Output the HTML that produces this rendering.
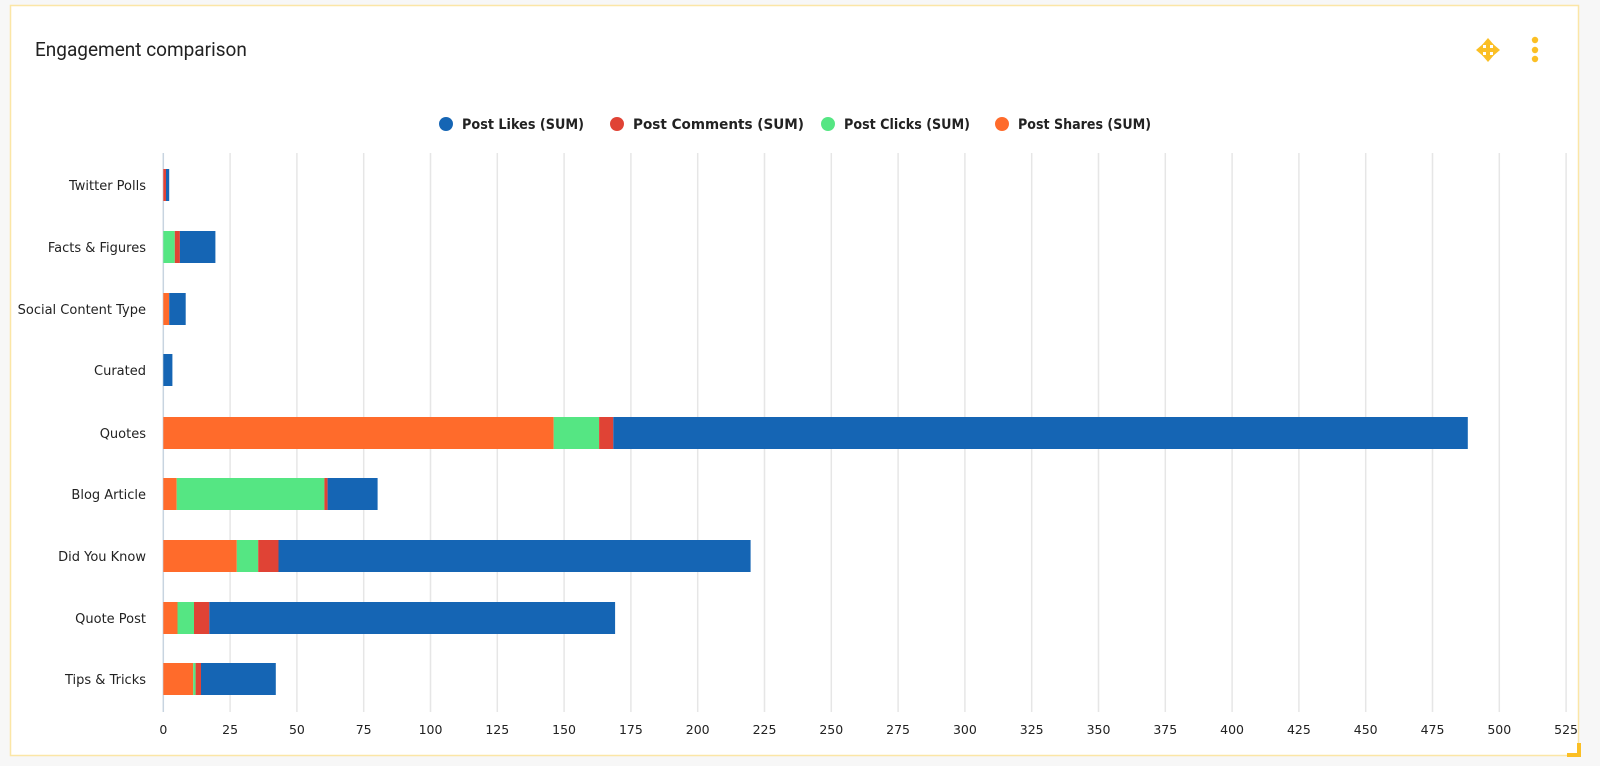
<!DOCTYPE html>
<html><head><meta charset="utf-8"><style>
body{margin:0;background:#f7f7f7;width:1600px;height:766px;overflow:hidden}
</style></head><body>
<svg width="1600" height="766" xmlns="http://www.w3.org/2000/svg" style="position:absolute;left:0;top:0">
<rect x="10.5" y="5.5" width="1568" height="750" fill="#fff" stroke="#fbe6a6" stroke-width="1.5"/>
<path d="M1567 755 L1579 755 L1579 743" fill="none" stroke="#fbbf24" stroke-width="4"/>
<text x="35" y="56" font-family="Roboto,'Liberation Sans',sans-serif" font-size="19" fill="#222">Engagement comparison</text>
<g fill="#fbbf24" transform="translate(1488,50)">
<polygon points="0,-12 -6,-5 6,-5"/><polygon points="0,12 -6,5 6,5"/><polygon points="-12,0 -5,-6 -5,6"/><polygon points="12,0 5,-6 5,6"/>
<rect x="-2" y="-6" width="4" height="12"/><rect x="-6" y="-2" width="12" height="4"/>
</g>
<circle cx="1535" cy="40" r="3.2" fill="#fbbf24"/><circle cx="1535" cy="50" r="3.2" fill="#fbbf24"/><circle cx="1535" cy="59" r="3.2" fill="#fbbf24"/>
<g font-family="'DejaVu Sans',sans-serif" font-weight="bold" font-size="14" fill="#222">
<circle cx="446" cy="124" r="7" fill="#1565b4"/><text x="462" y="129" textLength="122" lengthAdjust="spacingAndGlyphs">Post Likes (SUM)</text>
<circle cx="617" cy="124" r="7" fill="#e04335"/><text x="633" y="129" textLength="171" lengthAdjust="spacingAndGlyphs">Post Comments (SUM)</text>
<circle cx="828" cy="124" r="7" fill="#55e683"/><text x="844" y="129" textLength="126" lengthAdjust="spacingAndGlyphs">Post Clicks (SUM)</text>
<circle cx="1002" cy="124" r="7" fill="#ff6b2b"/><text x="1018" y="129" textLength="133" lengthAdjust="spacingAndGlyphs">Post Shares (SUM)</text>
</g>
<g stroke="#e6e6e6" stroke-width="1.5">
<line x1="230.1" y1="153" x2="230.1" y2="712"/><line x1="296.9" y1="153" x2="296.9" y2="712"/><line x1="363.7" y1="153" x2="363.7" y2="712"/><line x1="430.5" y1="153" x2="430.5" y2="712"/><line x1="497.3" y1="153" x2="497.3" y2="712"/><line x1="564.1" y1="153" x2="564.1" y2="712"/><line x1="630.9" y1="153" x2="630.9" y2="712"/><line x1="697.7" y1="153" x2="697.7" y2="712"/><line x1="764.5" y1="153" x2="764.5" y2="712"/><line x1="831.3" y1="153" x2="831.3" y2="712"/><line x1="898.1" y1="153" x2="898.1" y2="712"/><line x1="964.9" y1="153" x2="964.9" y2="712"/><line x1="1031.7" y1="153" x2="1031.7" y2="712"/><line x1="1098.5" y1="153" x2="1098.5" y2="712"/><line x1="1165.3" y1="153" x2="1165.3" y2="712"/><line x1="1232.1" y1="153" x2="1232.1" y2="712"/><line x1="1298.9" y1="153" x2="1298.9" y2="712"/><line x1="1365.7" y1="153" x2="1365.7" y2="712"/><line x1="1432.5" y1="153" x2="1432.5" y2="712"/><line x1="1499.3" y1="153" x2="1499.3" y2="712"/><line x1="1566.1" y1="153" x2="1566.1" y2="712"/>
</g>
<line x1="163.3" y1="153" x2="163.3" y2="712" stroke="#c8d4e0" stroke-width="1.5"/>
<g font-family="'DejaVu Sans',sans-serif" font-size="12.5" fill="#222" text-anchor="middle">
<text x="163.3" y="734">0</text><text x="230.1" y="734">25</text><text x="296.9" y="734">50</text><text x="363.7" y="734">75</text><text x="430.5" y="734">100</text><text x="497.3" y="734">125</text><text x="564.1" y="734">150</text><text x="630.9" y="734">175</text><text x="697.7" y="734">200</text><text x="764.5" y="734">225</text><text x="831.3" y="734">250</text><text x="898.1" y="734">275</text><text x="964.9" y="734">300</text><text x="1031.7" y="734">325</text><text x="1098.5" y="734">350</text><text x="1165.3" y="734">375</text><text x="1232.1" y="734">400</text><text x="1298.9" y="734">425</text><text x="1365.7" y="734">450</text><text x="1432.5" y="734">475</text><text x="1499.3" y="734">500</text><text x="1566.1" y="734">525</text>
</g>
<g font-family="'DejaVu Sans',sans-serif" font-size="13" fill="#222" text-anchor="end">
<text x="146" y="190">Twitter Polls</text><text x="146" y="252">Facts &amp; Figures</text><text x="146" y="314">Social Content Type</text><text x="146" y="375">Curated</text><text x="146" y="438">Quotes</text><text x="146" y="499">Blog Article</text><text x="146" y="561">Did You Know</text><text x="146" y="623">Quote Post</text><text x="146" y="684">Tips &amp; Tricks</text>
</g>
<g>
<rect x="163.3" y="169" width="2.7" height="32" fill="#e04335"/><rect x="166" y="169" width="3.2" height="32" fill="#1565b4"/>
<rect x="163.3" y="231" width="11.5" height="32" fill="#55e683"/><rect x="174.8" y="231" width="5.1" height="32" fill="#e04335"/><rect x="179.9" y="231" width="35.5" height="32" fill="#1565b4"/>
<rect x="163.3" y="293" width="5.9" height="32" fill="#ff6b2b"/><rect x="169.2" y="293" width="16.5" height="32" fill="#1565b4"/>
<rect x="163.3" y="354" width="9.1" height="32" fill="#1565b4"/>
<rect x="163.3" y="417" width="390.4" height="32" fill="#ff6b2b"/><rect x="553.7" y="417" width="45.4" height="32" fill="#55e683"/><rect x="599.1" y="417" width="14.2" height="32" fill="#e04335"/><rect x="613.3" y="417" width="854.5" height="32" fill="#1565b4"/>
<rect x="163.3" y="478" width="13.4" height="32" fill="#ff6b2b"/><rect x="176.7" y="478" width="147.7" height="32" fill="#55e683"/><rect x="324.4" y="478" width="3.2" height="32" fill="#e04335"/><rect x="327.6" y="478" width="50" height="32" fill="#1565b4"/>
<rect x="163.3" y="540" width="73.5" height="32" fill="#ff6b2b"/><rect x="236.8" y="540" width="21.4" height="32" fill="#55e683"/><rect x="258.2" y="540" width="20.3" height="32" fill="#e04335"/><rect x="278.5" y="540" width="472.1" height="32" fill="#1565b4"/>
<rect x="163.3" y="602" width="14.2" height="32" fill="#ff6b2b"/><rect x="177.5" y="602" width="16.5" height="32" fill="#55e683"/><rect x="194" y="602" width="15.3" height="32" fill="#e04335"/><rect x="209.3" y="602" width="405.8" height="32" fill="#1565b4"/>
<rect x="163.3" y="663" width="29.9" height="32" fill="#ff6b2b"/><rect x="193.2" y="663" width="2.4" height="32" fill="#55e683"/><rect x="195.6" y="663" width="5.4" height="32" fill="#e04335"/><rect x="201" y="663" width="74.8" height="32" fill="#1565b4"/>
</g>
</svg>
</body></html>
